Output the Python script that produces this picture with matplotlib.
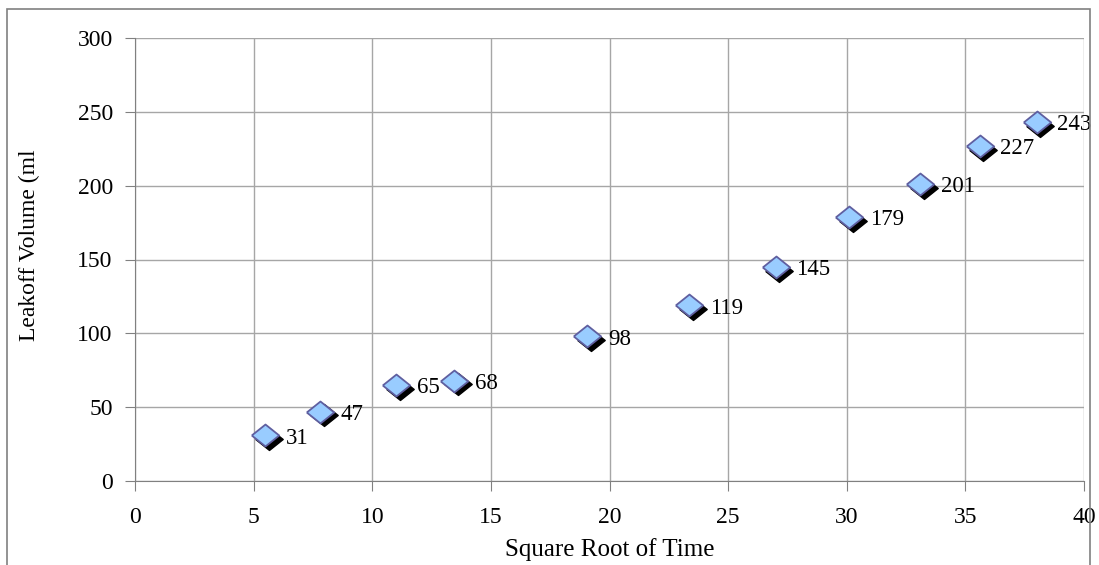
import matplotlib.pyplot as plt
from matplotlib import transforms
from matplotlib.patches import Rectangle

plt.rcParams['font.family'] = ['Liberation Serif', 'DejaVu Serif']

# data
sqrt_time = [5.5, 7.8, 11.0, 13.45, 19.05, 23.35, 27.0, 30.1, 33.1, 35.6, 38.0]
leakoff = [31, 47, 65, 68, 98, 119, 145, 179, 201, 227, 243]

fig = plt.figure(figsize=(10.99, 5.65), dpi=100)
W, H = 1099, 565
ax = fig.add_axes([135 / W, 1 - 481 / H, (1084 - 135) / W, (481 - 38) / H])

# outer chart border
fig.patches.append(Rectangle((7 / W, -0.05), (1090 - 7) / W, 1 - 9 / H + 0.05,
                             transform=fig.transFigure, fill=False,
                             edgecolor='#808080', linewidth=1.2))

ax.set_xlim(0, 40)
ax.set_ylim(0, 300)
ax.set_xticks(range(0, 41, 5))
ax.set_yticks(range(0, 301, 50))
ax.grid(True, color='#a6a6a6', linewidth=1)
ax.set_axisbelow(True)
for s in ['top', 'right']:
    ax.spines[s].set_visible(False)
for s in ['left', 'bottom']:
    ax.spines[s].set_color('#808080')
ax.tick_params(direction='out', length=7, color='#808080', labelsize=17)
ax.tick_params(axis='x', pad=12)
ax.tick_params(axis='y', pad=9)

# flattened diamond with a black drop shadow
diamond = [(-1.25, 0), (0, 1), (1.25, 0), (0, -1), (-1.25, 0)]
shadow = transforms.offset_copy(ax.transData, fig=fig, x=2.6, y=-2.8, units='points')
ax.scatter(sqrt_time, leakoff, marker=diamond, s=390, color='black', transform=shadow, zorder=3)
ax.scatter(sqrt_time, leakoff, marker=diamond, s=390, facecolor='#99ccff',
           edgecolor='#5f5fa0', linewidth=1.3, zorder=4)

for x, y in zip(sqrt_time, leakoff):
    ax.annotate(str(y), (x, y), xytext=(15, -2), textcoords='offset points',
                fontsize=16.5, va='center', ha='left', zorder=5)

ax.set_xlabel('Square Root of Time', fontsize=18)
ax.xaxis.label.set_va('top')
ax.xaxis.set_label_coords(0.5, -0.128)
ax.set_ylabel('Leakoff Volume (ml', fontsize=17)
ax.yaxis.label.set_va('center')
ax.yaxis.set_label_coords(-0.111, 0.533)

fig.savefig('out.png', dpi=100)
